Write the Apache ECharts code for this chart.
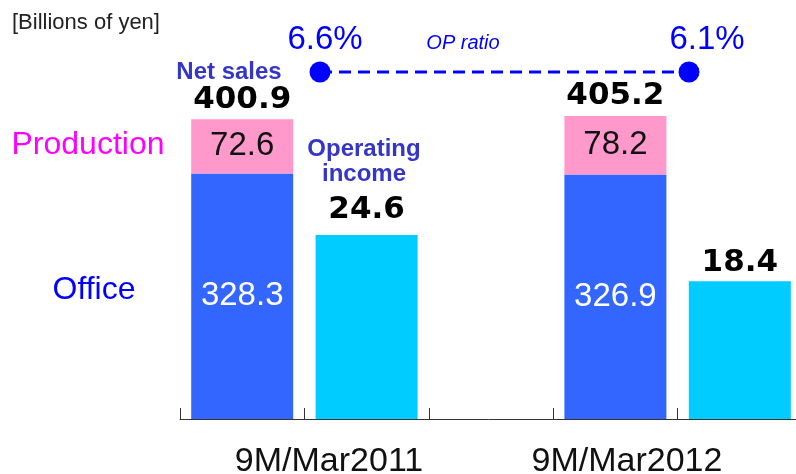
<!DOCTYPE html>
<html>
<head>
<meta charset="utf-8">
<script src="https://cdn.jsdelivr.net/npm/echarts@6/dist/echarts.min.js"></script>
<style>
  html, body { margin: 0; padding: 0; background: #fff; }
  #chart { width: 796px; height: 474px; }
</style>
</head>
<body>
<div id="chart"></div>
<script>
const periods = ['9M/Mar2011', '9M/Mar2012'];
const office = [328.3, 326.9];
const production = [72.6, 78.2];
const netSales = [400.9, 405.2];
const opIncome = [24.6, 18.4];
const opRatio = [6.6, 6.1];

// bar axis has 5 slots: sales, op income, gap, sales, op income
const slots = ['s0', 'o0', 'gap', 's1', 'o1'];
const atSales = arr => slots.map(s => s[0] === 's' ? arr[+s[1]] : '-');
const atIncome = arr => slots.map(s => s[0] === 'o' ? arr[+s[1]] : '-');

const FONT = '"Liberation Sans", Arial, sans-serif';
const BOLD_NUM = '"DejaVu Sans", Verdana, sans-serif';
const ratioLabelShift = [5, 18];
const incomeLabelDrop = [0, 7];

const chart = echarts.init(document.getElementById('chart'));

const barCommon = {
  type: 'bar',
  xAxisIndex: 0,
  barWidth: 102,
  barGap: '-100%',
  animation: false
};

chart.setOption({
  animation: false,
  grid: [
    { left: 180, right: -6, top: 45, bottom: 55, outerBoundsMode: 'none' },
    { left: 180, width: 596, top: 45, bottom: 55, outerBoundsMode: 'none' },
    { left: 320, right: 107, top: 62, height: 20, outerBoundsMode: 'none' }
  ],
  xAxis: [
    {
      gridIndex: 0, type: 'category', data: slots,
      axisLine: { lineStyle: { color: '#333', width: 1 } },
      axisTick: { show: true, inside: true, length: 11, lineStyle: { color: '#333' } },
      axisLabel: { show: false }
    },
    {
      gridIndex: 1, type: 'category', data: periods,
      axisLine: { show: false }, axisTick: { show: false },
      axisLabel: { fontFamily: FONT, fontSize: 34, color: '#111', margin: 26 }
    },
    {
      gridIndex: 2, type: 'category', data: periods, boundaryGap: false, show: false
    }
  ],
  yAxis: [
    { gridIndex: 0, type: 'value', min: 0, max: 500, show: false },
    { gridIndex: 0, type: 'value', min: 0, max: 50, show: false },
    { gridIndex: 1, type: 'value', show: false },
    { gridIndex: 2, type: 'category', data: ['OP ratio'], show: false }
  ],
  series: [
    Object.assign({}, barCommon, {
      name: 'Office', stack: 'sales', yAxisIndex: 0,
      data: atSales(office),
      itemStyle: { color: '#3366FF' },
      label: { show: true, position: 'inside', color: '#fff', fontFamily: FONT, fontSize: 33 }
    }),
    Object.assign({}, barCommon, {
      name: 'Production', stack: 'sales', yAxisIndex: 0,
      data: atSales(production),
      itemStyle: { color: '#FF99CC' },
      label: { show: true, position: 'inside', color: '#111', fontFamily: FONT, fontSize: 33 }
    }),
    Object.assign({}, barCommon, {
      name: 'Net sales', yAxisIndex: 0,
      data: atSales(netSales),
      itemStyle: { color: 'rgba(0,0,0,0)' },
      label: {
        show: true, position: 'top', distance: 4, color: '#000',
        fontFamily: BOLD_NUM, fontWeight: 'bold', fontSize: 31
      }
    }),
    Object.assign({}, barCommon, {
      name: 'Operating income', yAxisIndex: 1,
      data: atIncome(opIncome).map(v => {
        if (v === '-') return v;
        const i = opIncome.indexOf(v);
        return { value: v, label: { offset: [0, incomeLabelDrop[i]] } };
      }),
      itemStyle: { color: '#00CCFF' },
      label: {
        show: true, position: 'top', distance: 10, color: '#000',
        fontFamily: BOLD_NUM, fontWeight: 'bold', fontSize: 31
      }
    }),
    {
      name: 'OP ratio', type: 'line', xAxisIndex: 2, yAxisIndex: 3,
      data: opRatio.map((v, i) => ({
        value: [i, 0, v],
        label: { offset: [ratioLabelShift[i], 0] }
      })),
      encode: { x: 0, y: 1 },
      symbol: 'circle', symbolSize: 21,
      itemStyle: { color: '#0000FF' },
      lineStyle: { color: '#0000FF', width: 3, type: [12, 7] },
      label: {
        show: true, position: 'top', distance: 5, color: '#0000FF',
        fontFamily: FONT, fontSize: 33,
        formatter: p => p.value[2].toFixed(1) + '%'
      }
    }
  ],
  graphic: [
    { type: 'text', style: { text: '[Billions of yen]', x: 12, y: 23, align: 'left', verticalAlign: 'middle', font: '22px ' + FONT, fill: '#222' } },
    { type: 'text', style: { text: 'Net sales', x: 229, y: 72, align: 'center', verticalAlign: 'middle', font: 'bold 24px ' + FONT, fill: '#3535C8' } },
    { type: 'text', style: { text: 'Operating\nincome', x: 364, y: 162, align: 'center', verticalAlign: 'middle', font: 'bold 24px ' + FONT, lineHeight: 25, fill: '#3535C8' } },
    { type: 'text', style: { text: 'OP ratio', x: 463, y: 43, align: 'center', verticalAlign: 'middle', font: 'italic 20px ' + FONT, fill: '#0000FF' } },
    { type: 'text', style: { text: 'Production', x: 88, y: 145, align: 'center', verticalAlign: 'middle', font: '32px ' + FONT, fill: '#FF00FF' } },
    { type: 'text', style: { text: 'Office', x: 94, y: 290, align: 'center', verticalAlign: 'middle', font: '32px ' + FONT, fill: '#0000FF' } }
  ]
});

window.addEventListener('resize', () => {
  chart.resize();
});
</script>
</body>
</html>
